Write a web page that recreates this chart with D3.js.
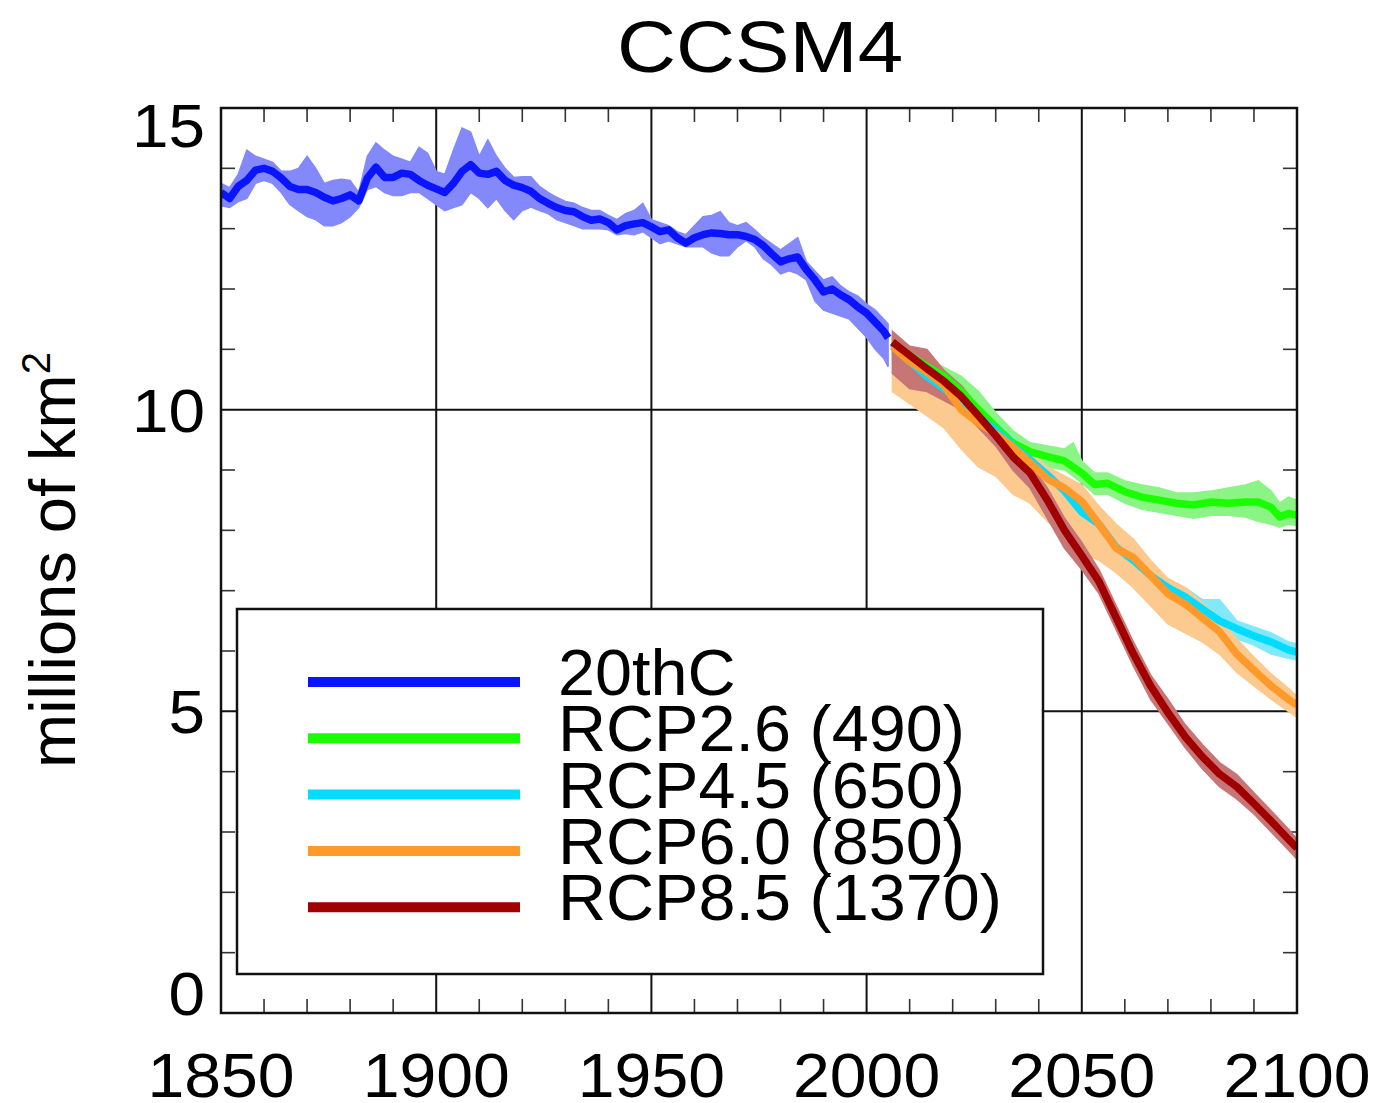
<!DOCTYPE html>
<html>
<head>
<meta charset="utf-8">
<script src="https://cdn.jsdelivr.net/npm/d3@7"></script>
<style>
  html, body { margin: 0; padding: 0; background: #fff; }
  svg { display: block; }
  text { font-family: "Liberation Sans", Arial, Helvetica, sans-serif; fill: #000; }
</style>
</head>
<body>
<svg id="chart" width="1380" height="1103"></svg>
<script>
// ---------------- DATA ----------------
const title = "CCSM4";
const yLabel = "millions of km";
const xTicks = [1850, 1900, 1950, 2000, 2050, 2100];
const yTicks = [0, 5, 10, 15];

const legendNames = ["20thC", "RCP2.6 (490)", "RCP4.5 (650)", "RCP6.0 (850)", "RCP8.5 (1370)"];
const lineColors = ["#0a14ff", "#1aff00", "#00dcff", "#ff9a2a", "#a00000"];
const bandColors = ["#8388fb", "#8af585", "#82e9fb", "#fcc98f", "#c77575"];

// 20th century (historical)
const years20 = [1850,1852,1854,1856,1858,1860,1862,1864,1866,1868,1870,1872,1874,1876,1878,1880,1882,1884,1886,1888,1890,1892,1894,1896,1898,1900,1902,1904,1906,1908,1910,1912,1914,1916,1918,1920,1922,1924,1926,1928,1930,1932,1934,1936,1938,1940,1942,1944,1946,1948,1950,1952,1954,1956,1958,1960,1962,1964,1966,1968,1970,1972,1974,1976,1978,1980,1982,1984,1986,1988,1990,1992,1994,1996,1998,2000,2002,2004,2005];
const mean20 = [13.6,13.5,13.7,13.8,13.97,14.0,13.95,13.84,13.7,13.65,13.65,13.6,13.52,13.46,13.5,13.56,13.46,13.84,14.02,13.85,13.85,13.92,13.9,13.8,13.72,13.66,13.6,13.75,13.95,14.06,13.92,13.9,13.95,13.8,13.72,13.68,13.62,13.5,13.42,13.35,13.3,13.28,13.2,13.14,13.16,13.1,12.98,13.05,13.08,13.1,13.03,12.95,12.98,12.85,12.76,12.85,12.9,12.93,12.92,12.9,12.9,12.87,12.82,12.72,12.58,12.45,12.5,12.53,12.32,12.15,11.95,12.0,11.9,11.82,11.7,11.6,11.45,11.3,11.19];
const lo20 = [13.38,13.35,13.45,13.5,13.75,13.8,13.75,13.6,13.4,13.3,13.2,13.15,13.05,13.05,13.1,13.2,13.35,13.65,13.7,13.6,13.55,13.55,13.6,13.6,13.5,13.4,13.3,13.35,13.4,13.6,13.5,13.35,13.5,13.3,13.15,13.3,13.36,13.3,13.25,13.15,13.1,13.05,13.0,13.0,13.0,12.98,12.9,12.92,12.9,12.95,12.85,12.75,12.8,12.75,12.7,12.7,12.7,12.6,12.55,12.55,12.7,12.8,12.7,12.5,12.4,12.25,12.3,12.25,12.15,11.8,11.65,11.6,11.55,11.5,11.35,11.2,11.0,10.85,10.71];
const hi20 = [13.75,13.68,13.9,14.3,14.2,14.15,14.1,13.95,13.95,14.0,14.2,14.0,13.75,13.8,13.82,13.8,13.6,14.2,14.42,14.3,14.2,14.15,14.1,14.35,14.25,13.95,13.9,14.3,14.67,14.6,14.2,14.47,14.2,14.0,13.85,13.86,13.86,13.7,13.6,13.52,13.45,13.42,13.35,13.3,13.3,13.22,13.15,13.25,13.3,13.42,13.15,13.1,13.05,12.95,12.9,13.05,13.2,13.22,13.28,13.1,13.05,13.1,12.98,12.85,12.75,12.65,12.75,12.85,12.45,12.3,12.15,12.2,12.05,11.95,11.88,11.75,11.65,11.5,11.42];

// RCP2.6
const years26 = [2006,2010,2014,2018,2022,2026,2030,2034,2038,2042,2046,2048,2050,2053,2056,2060,2064,2068,2072,2076,2080,2084,2088,2091,2094,2096,2098,2100];
const mean26 = [11.12,10.9,10.72,10.55,10.3,10.0,9.72,9.45,9.3,9.22,9.15,9.05,8.95,8.76,8.78,8.64,8.55,8.5,8.45,8.42,8.47,8.45,8.47,8.47,8.38,8.22,8.28,8.25];
const lo26 = [10.95,10.7,10.55,10.4,10.15,9.85,9.6,9.35,9.15,9.05,9.0,8.9,8.78,8.6,8.6,8.45,8.35,8.3,8.25,8.2,8.25,8.25,8.22,8.15,8.1,8.05,8.1,8.08];
const hi26 = [11.25,11.05,10.85,10.7,10.55,10.3,9.95,9.65,9.45,9.4,9.35,9.45,9.15,8.95,8.95,8.82,8.75,8.7,8.62,8.62,8.65,8.7,8.75,8.82,8.65,8.45,8.55,8.5];

// RCP4.5
const years45 = [2006,2010,2014,2018,2022,2026,2030,2034,2038,2042,2046,2050,2054,2058,2062,2066,2070,2074,2078,2082,2086,2090,2094,2098,2100];
const mean45 = [11.1,10.8,10.55,10.35,10.12,9.88,9.66,9.4,9.17,8.92,8.65,8.3,8.1,7.72,7.5,7.25,7.05,6.9,6.7,6.5,6.37,6.25,6.15,6.02,5.98];
const lo45 = [10.9,10.55,10.35,10.15,9.95,9.7,9.5,9.25,9.0,8.75,8.5,8.15,7.95,7.3,7.3,7.1,6.9,6.75,6.55,6.35,6.2,6.1,5.95,5.88,5.85];
const hi45 = [11.2,11.0,10.8,10.5,10.3,10.0,9.8,9.55,9.3,9.05,8.8,8.45,8.25,7.85,7.6,7.4,7.2,7.05,6.85,6.85,6.5,6.4,6.3,6.15,6.12];

// RCP6.0
const years60 = [2006,2010,2014,2018,2022,2026,2030,2034,2038,2042,2046,2050,2054,2058,2062,2066,2070,2074,2078,2082,2086,2090,2094,2098,2100];
const mean60 = [11.05,10.8,10.62,10.4,10.0,9.78,9.6,9.38,9.12,8.85,8.7,8.48,8.1,7.7,7.55,7.25,6.95,6.78,6.55,6.32,5.95,5.68,5.42,5.2,5.1];
const lo60 = [10.3,10.1,9.9,9.7,9.35,9.05,8.9,8.6,8.45,8.15,7.9,7.65,7.5,7.3,7.05,6.75,6.45,6.3,6.15,5.95,5.65,5.42,5.2,5.0,4.9];
const hi60 = [11.25,11.0,10.8,10.55,10.2,9.95,9.75,9.5,9.3,9.05,8.9,8.75,8.4,8.1,7.85,7.5,7.2,7.05,6.8,6.55,6.2,5.9,5.62,5.38,5.25];

// RCP8.5
const years85 = [2006,2010,2014,2018,2022,2026,2030,2034,2038,2042,2046,2050,2054,2058,2062,2066,2070,2074,2078,2082,2086,2090,2094,2098,2100];
const mean85 = [11.12,10.9,10.68,10.47,10.22,9.9,9.57,9.22,8.95,8.5,8.0,7.58,7.15,6.55,5.95,5.42,4.98,4.58,4.25,3.96,3.75,3.47,3.18,2.88,2.73];
const lo85 = [10.6,10.35,10.3,10.15,10.0,9.7,9.4,9.0,8.7,8.2,7.7,7.35,6.95,6.35,5.75,5.2,4.8,4.4,4.05,3.75,3.55,3.3,3.0,2.7,2.55];
const hi85 = [11.3,11.05,11.0,10.65,10.4,10.05,9.7,9.4,9.1,8.7,8.2,7.8,7.35,6.75,6.15,5.6,5.2,4.78,4.45,4.15,3.95,3.65,3.35,3.05,2.88];

// ---------------- DRAW ----------------
(function () {
const svg = d3.select("#chart");
const pLeft = 221, pRight = 1297, pTop = 108, pBottom = 1013;

const x = d3.scaleLinear().domain([1850, 2100]).range([pLeft, pRight]);
const y = d3.scaleLinear().domain([0, 15]).range([pBottom, pTop]);

const series = [
  {years: years20, mean: mean20, lo: lo20, hi: hi20},
  {years: years26, mean: mean26, lo: lo26, hi: hi26},
  {years: years45, mean: mean45, lo: lo45, hi: hi45},
  {years: years60, mean: mean60, lo: lo60, hi: hi60},
  {years: years85, mean: mean85, lo: lo85, hi: hi85}
].map((s, i) => ({
  pts: s.years.map((yr, k) => ({yr, m: s.mean[k], lo: s.lo[k], hi: s.hi[k]})),
  color: lineColors[i], band: bandColors[i]
}));

svg.append("defs").append("clipPath").attr("id", "clip")
  .append("rect").attr("x", pLeft).attr("y", pTop).attr("width", pRight - pLeft).attr("height", pBottom - pTop);

// Title
svg.append("text")
  .attr("transform", `translate(${(pLeft + pRight) / 2 + 1},72) scale(1.12,1)`)
  .attr("text-anchor", "middle").style("font-size", "73px").text(title);

// Grid lines (major)
const grid = svg.append("g");
xTicks.slice(1, -1).forEach(t => {
  grid.append("line").attr("x1", x(t)).attr("x2", x(t)).attr("y1", pTop).attr("y2", pBottom)
    .attr("stroke", "#111").attr("stroke-width", 2);
});
yTicks.slice(1, -1).forEach(t => {
  grid.append("line").attr("x1", pLeft).attr("x2", pRight).attr("y1", y(t)).attr("y2", y(t))
    .attr("stroke", "#111").attr("stroke-width", 2);
});

// Minor ticks
const minorX = d3.range(1860, 2100, 10).filter(v => v % 50 !== 0);
const minorY = d3.range(1, 15, 1).filter(v => v % 5 !== 0);
const tickLen = 14;
const ticks = svg.append("g").attr("stroke", "#333").attr("stroke-width", 1.6);
minorX.forEach(t => {
  ticks.append("line").attr("x1", x(t)).attr("x2", x(t)).attr("y1", pBottom).attr("y2", pBottom - tickLen);
  ticks.append("line").attr("x1", x(t)).attr("x2", x(t)).attr("y1", pTop).attr("y2", pTop + tickLen);
});
minorY.forEach(t => {
  ticks.append("line").attr("x1", pLeft).attr("x2", pLeft + tickLen).attr("y1", y(t)).attr("y2", y(t));
  ticks.append("line").attr("x1", pRight).attr("x2", pRight - tickLen).attr("y1", y(t)).attr("y2", y(t));
});

// Data
const plot = svg.append("g").attr("clip-path", "url(#clip)");
const area = d3.area().x(d => x(d.yr)).y0(d => y(d.lo)).y1(d => y(d.hi));
const line = d3.line().x(d => x(d.yr)).y(d => y(d.m));
series.forEach(s => {
  plot.append("path").datum(s.pts).attr("d", area).attr("fill", s.band).attr("stroke", s.band).attr("stroke-width", 1.5);
});
series.forEach(s => {
  plot.append("path").datum(s.pts).attr("d", line).attr("fill", "none")
    .attr("stroke", s.color).attr("stroke-width", 7.5).attr("stroke-linejoin", "round").attr("stroke-linecap", "butt");
});

// Frame
svg.append("rect").attr("x", pLeft).attr("y", pTop).attr("width", pRight - pLeft).attr("height", pBottom - pTop)
  .attr("fill", "none").attr("stroke", "#111").attr("stroke-width", 2.5);

// Axis labels
const xl = svg.append("g");
xTicks.forEach(t => {
  xl.append("text").attr("transform", `translate(${x(t)},1097) scale(1.05,1)`)
    .attr("text-anchor", "middle").style("font-size", "63px").text(t);
});
const yShift = {15: 17, 0: -20};
yTicks.forEach(t => {
  svg.append("text").attr("transform", `translate(205,${y(t) + 22 + (yShift[t] || 0)}) scale(1.06,1)`)
    .attr("text-anchor", "end").style("font-size", "62px").text(t);
});

// Y axis title
const yt = svg.append("text").attr("transform", "translate(75,560) rotate(-90)")
  .attr("text-anchor", "middle").style("font-size", "65px");
yt.append("tspan").text(yLabel);
yt.append("tspan").attr("dy", -25).style("font-size", "40px").text("2");

// Legend
const lg = svg.append("g");
lg.append("rect").attr("x", 237).attr("y", 609).attr("width", 806).attr("height", 365)
  .attr("fill", "#fff").attr("stroke", "#111").attr("stroke-width", 2.5);
legendNames.forEach((name, i) => {
  const ly = 682 + i * 56.3;
  lg.append("line").attr("x1", 308).attr("x2", 520).attr("y1", ly).attr("y2", ly)
    .attr("stroke", lineColors[i]).attr("stroke-width", 10);
  lg.append("text").attr("transform", `translate(558,${ly + 13}) scale(1.04,1)`)
    .style("font-size", "64px").text(name);
});
})();
</script>
</body>
</html>
